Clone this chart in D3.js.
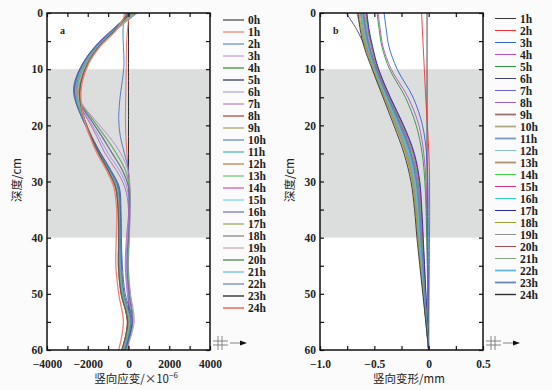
<!DOCTYPE html>
<html>
<head>
<meta charset="utf-8">
<script src="https://cdn.jsdelivr.net/npm/d3@7"></script>
<style>
  body { margin: 0; background: #fbfbfb; }
  svg { display: block; }
  .tick text { font-family: 'Liberation Serif', 'DejaVu Serif', serif; font-weight: bold; font-size: 11.5px; fill: #222; }
  .tick line { stroke: #111; stroke-width: 1.2; }
  .legend text { font-family: 'Liberation Serif', 'DejaVu Serif', serif; font-weight: bold; font-size: 11.5px; fill: #222; }
  .title { font-family: 'Noto Sans CJK SC', sans-serif; font-size: 11.5px; fill: #222; }
  .panel-letter { font-family: 'Liberation Serif', serif; font-weight: bold; font-size: 10px; fill: #222; }
</style>
</head>
<body>
<svg id="chart" width="552" height="390"></svg>
<script>
// ---- panel a: vertical strain (x10^-6) vs depth (cm) ----
const hoursA = ['0h','1h','2h','3h','4h','5h','6h','7h','8h','9h','10h','11h','12h',
  '13h','14h','15h','16h','17h','18h','19h','20h','21h','22h','23h','24h'];
const depthA = [0, 3, 6, 9, 12, 14, 16, 19, 22, 25, 28, 31, 35, 40, 45, 50, 55, 60];
const strainA = [
  [0, 0, 0, 0, 0, 0, 0, 0, 0, 0, 0, 0, 0, 0, 0, 0, 0, 0],
  [50, -50, -100, -110, -120, -130, -140, -150, -130, -80, -20, 0, 20, 0, -20, 0, 30, 0],
  [-200, -270, -250, -220, -300, -380, -440, -480, -400, -200, 0, 30, 20, 0, -30, 0, 50, -50],
  [450, -600, -1450, -2050, -2400, -2450, -2300, -1650, -950, -380, -30, 80, 80, 50, 0, 100, 280, -100],
  [380, -650, -1500, -2100, -2450, -2500, -2350, -1750, -1150, -600, -150, 50, 70, 20, -30, 60, 220, -150],
  [320, -700, -1550, -2150, -2500, -2550, -2400, -1850, -1300, -800, -300, 0, 50, -20, -80, 20, 180, -180],
  [260, -750, -1600, -2200, -2550, -2600, -2450, -1950, -1450, -1000, -450, -80, 20, -60, -120, -20, 130, -230],
  [200, -800, -1650, -2250, -2600, -2650, -2500, -2000, -1550, -1150, -600, -180, 0, -100, -160, -60, 80, -280],
  [0, -650, -1450, -2000, -2300, -2380, -2350, -2150, -1800, -1400, -950, -550, -420, -400, -430, -330, -60, -300],
  [100, -700, -1500, -2050, -2400, -2450, -2400, -2180, -1830, -1430, -980, -600, -460, -420, -420, -300, -10, -260],
  [50, -750, -1600, -2200, -2550, -2650, -2550, -2220, -1820, -1380, -900, -500, -400, -380, -380, -260, 40, -220],
  [150, -700, -1550, -2150, -2500, -2580, -2500, -2200, -1840, -1430, -960, -580, -480, -450, -450, -320, 10, -280],
  [-50, -650, -1450, -2050, -2400, -2450, -2400, -2190, -1860, -1470, -1020, -640, -520, -480, -500, -360, -30, -330],
  [200, -700, -1500, -2100, -2450, -2520, -2450, -2190, -1830, -1420, -940, -560, -440, -400, -370, -250, 70, -200],
  [120, -720, -1550, -2150, -2480, -2550, -2480, -2210, -1850, -1440, -970, -590, -460, -430, -420, -290, 40, -250],
  [80, -740, -1580, -2180, -2520, -2600, -2520, -2230, -1870, -1470, -1010, -630, -510, -480, -490, -360, -10, -300],
  [150, -800, -1650, -2250, -2620, -2700, -2580, -2240, -1820, -1360, -860, -450, -370, -350, -300, -160, 180, -160],
  [250, -600, -1450, -2050, -2400, -2480, -2420, -2180, -1840, -1440, -970, -590, -460, -420, -400, -280, 60, -230],
  [300, -620, -1480, -2080, -2430, -2500, -2450, -2200, -1860, -1460, -990, -610, -480, -440, -420, -300, 30, -250],
  [180, -680, -1520, -2120, -2460, -2540, -2480, -2220, -1870, -1470, -1000, -620, -500, -460, -460, -330, 20, -270],
  [220, -660, -1500, -2100, -2450, -2520, -2460, -2210, -1860, -1460, -990, -610, -490, -450, -440, -310, 30, -260],
  [60, -760, -1600, -2200, -2550, -2630, -2540, -2230, -1840, -1410, -920, -530, -430, -400, -380, -250, 80, -210],
  [100, -780, -1620, -2230, -2580, -2660, -2560, -2240, -1830, -1390, -890, -490, -400, -370, -340, -210, 120, -180],
  [0, -650, -1450, -2000, -2320, -2400, -2360, -2160, -1850, -1460, -1010, -640, -510, -480, -490, -360, -40, -330],
  [-100, -600, -1400, -1950, -2250, -2330, -2320, -2170, -1900, -1540, -1080, -720, -580, -600, -620, -480, -250, -480]
];
const xTicksA = [-4000, -2000, 0, 2000, 4000];
const xMinorA = [-3000, -1000, 1000, 3000];

// ---- panel b: vertical deformation (mm) vs depth (cm) ----
const hoursB = ['1h','2h','3h','4h','5h','6h','7h','8h','9h','10h','11h','12h',
  '13h','14h','15h','16h','17h','18h','19h','20h','21h','22h','23h','24h'];
const depthB = [0, 3, 6, 10, 15, 20, 25, 30, 35, 40, 50, 60];
const deformB = [
  [-0.015, -0.015, -0.015, -0.015, -0.015, -0.015, -0.015, -0.014, -0.013, -0.012, -0.006, 0],
  [-0.065, -0.058, -0.05, -0.04, -0.027, -0.012, 0.002, 0.008, 0.009, 0.008, 0.004, 0],
  [-0.41, -0.39, -0.365, -0.29, -0.144, -0.057, -0.02, -0.008, -0.005, -0.004, -0.002, 0],
  [-0.465, -0.445, -0.42, -0.345, -0.19, -0.09, -0.045, -0.025, -0.018, -0.014, -0.007, 0],
  [-0.475, -0.455, -0.43, -0.36, -0.215, -0.115, -0.06, -0.035, -0.024, -0.018, -0.009, 0],
  [-0.76, -0.66, -0.586, -0.5, -0.4, -0.3, -0.205, -0.145, -0.115, -0.095, -0.047, 0],
  [-0.59, -0.57, -0.54, -0.48, -0.37, -0.25, -0.16, -0.1, -0.08, -0.065, -0.033, 0],
  [-0.58, -0.56, -0.53, -0.47, -0.36, -0.245, -0.15, -0.098, -0.076, -0.061, -0.031, 0],
  [-0.62, -0.6, -0.565, -0.495, -0.39, -0.285, -0.19, -0.13, -0.103, -0.085, -0.042, 0],
  [-0.66, -0.62, -0.58, -0.51, -0.405, -0.3, -0.21, -0.147, -0.117, -0.096, -0.048, 0],
  [-0.6, -0.58, -0.548, -0.484, -0.38, -0.266, -0.17, -0.114, -0.09, -0.073, -0.036, 0],
  [-0.595, -0.575, -0.543, -0.48, -0.375, -0.26, -0.164, -0.109, -0.085, -0.069, -0.035, 0],
  [-0.628, -0.608, -0.574, -0.504, -0.402, -0.296, -0.202, -0.141, -0.112, -0.092, -0.046, 0],
  [-0.579, -0.559, -0.527, -0.468, -0.362, -0.242, -0.144, -0.093, -0.072, -0.057, -0.029, 0],
  [-0.573, -0.553, -0.522, -0.464, -0.357, -0.236, -0.138, -0.087, -0.067, -0.053, -0.027, 0],
  [-0.606, -0.586, -0.553, -0.488, -0.384, -0.272, -0.176, -0.12, -0.094, -0.077, -0.038, 0],
  [-0.568, -0.548, -0.516, -0.46, -0.353, -0.23, -0.132, -0.082, -0.063, -0.05, -0.025, 0],
  [-0.639, -0.619, -0.585, -0.512, -0.411, -0.308, -0.214, -0.152, -0.121, -0.1, -0.05, 0],
  [-0.612, -0.592, -0.558, -0.492, -0.389, -0.278, -0.183, -0.125, -0.099, -0.081, -0.04, 0],
  [-0.6, -0.578, -0.545, -0.478, -0.372, -0.258, -0.165, -0.11, -0.086, -0.07, -0.035, 0],
  [-0.623, -0.603, -0.569, -0.5, -0.398, -0.29, -0.195, -0.136, -0.108, -0.089, -0.044, 0],
  [-0.615, -0.595, -0.56, -0.494, -0.39, -0.282, -0.187, -0.129, -0.101, -0.083, -0.041, 0],
  [-0.605, -0.583, -0.55, -0.486, -0.378, -0.264, -0.168, -0.112, -0.088, -0.072, -0.036, 0],
  [-0.65, -0.63, -0.595, -0.52, -0.42, -0.32, -0.227, -0.163, -0.13, -0.108, -0.054, 0]
];
const xTicksB = [-1.0, -0.5, 0, 0.5];
const xMinorB = [-0.75, -0.25, 0.25];

// shared depth ticks and the shaded layer
const yTicks = [0, 10, 20, 30, 40, 50, 60];
const yMinor = [5, 15, 25, 35, 45, 55];
const bandDepth = [10, 40];

// line styles
const colorsA = ['#1a1a1a','#f0604a','#4a6ec8','#c080d0','#70b070','#707090','#9090e0','#b060c0',
  '#901818','#909040','#3a70c0','#20a0a0','#b06020','#40c050','#d03090','#50d0e0','#5050b0',
  '#b8c088','#a8a8a8','#b89898','#80a880','#40a8d0','#4868a8','#606060','#f08070'];
const widthsA = [1,1,1,1,1.8,1.8,1,1,1,1,1,1,1,1,1,1,1,1.8,1.8,1,1.8,1,1,1.8,1.8];
const colorsB = ['#333333','#f03030','#3060d0','#b050c0','#309040','#404080','#6a60d0','#a060c0',
  '#a07070','#b0a880','#7898c8','#88c0c8','#b09070','#40d040','#d03090','#30d0d0','#2828a0',
  '#98a030','#909090','#a05050','#80a880','#60b8e8','#6888b8','#303030'];
const widthsB = [1,1,1,1,1,1,1,1,1.8,1.8,1.8,1,1.8,1,1,1,1,1,1,1,1,1.8,1.8,1.4];

class DepthProfile {

  constructor(_config, _depths, _series, _labels) {
    this.config = {
      parentElement: _config.parentElement,
      left: _config.left,
      top: _config.top || 13,
      width: _config.width || 163,
      height: _config.height || 337,
      xDomain: _config.xDomain,
      xTicks: _config.xTicks,
      xMinor: _config.xMinor,
      xFormat: _config.xFormat,
      colors: _config.colors,
      widths: _config.widths,
      legendX: _config.legendX,
      legendY: _config.legendY,
      letter: _config.letter,
      yTitleX: _config.yTitleX,
      xTitleX: _config.xTitleX,
      xTitle: _config.xTitle,
      id: _config.id
    };
    this.depths = _depths;
    this.series = _series;
    this.labels = _labels;
    this.initVis();
  }

  initVis() {
    let vis = this;
    const c = vis.config;

    vis.xScale = d3.scaleLinear().domain(c.xDomain).range([0, c.width]);
    vis.yScale = d3.scaleLinear().domain([0, 60]).range([0, c.height]);

    vis.svg = d3.select(c.parentElement);
    vis.chart = vis.svg.append('g')
        .attr('transform', `translate(${c.left},${c.top})`);

    vis.chart.append('rect')
        .attr('width', c.width)
        .attr('height', c.height)
        .attr('fill', '#ffffff');

    // shaded soil layer
    vis.chart.append('rect')
        .attr('x', 0)
        .attr('y', vis.yScale(bandDepth[0]))
        .attr('width', c.width)
        .attr('height', vis.yScale(bandDepth[1]) - vis.yScale(bandDepth[0]))
        .attr('fill', '#dcdddd');

    vis.chart.append('clipPath')
        .attr('id', 'clip-' + c.id)
      .append('rect')
        .attr('width', c.width)
        .attr('height', c.height);

    vis.lineG = vis.chart.append('g')
        .attr('clip-path', `url(#clip-${c.id})`);

    vis.renderVis();
  }

  renderVis() {
    let vis = this;
    const c = vis.config;

    const line = d3.line()
        .x(d => vis.xScale(d[0]))
        .y(d => vis.yScale(d[1]))
        .curve(d3.curveCatmullRom.alpha(0.5));

    vis.lineG.selectAll('.profile')
        .data(vis.series)
        .join('path')
        .attr('class', 'profile')
        .attr('fill', 'none')
        .attr('stroke', (d, i) => c.colors[i])
        .attr('stroke-width', (d, i) => c.widths[i] > 1.5 ? 1.3 : 0.9)
        .attr('d', d => line(d.map((v, j) => [v, vis.depths[j]])));

    // axes: labelled bottom/left, plain ticks on top/right, all pointing inward
    const tickIn = 4;
    vis.chart.append('g')
        .attr('transform', `translate(0,${c.height})`)
        .call(d3.axisBottom(vis.xScale).tickValues(c.xTicks).tickFormat(c.xFormat)
          .tickSizeInner(-tickIn).tickSizeOuter(0).tickPadding(10))
        .call(g => g.select('.domain').remove());
    vis.chart.append('g')
        .attr('transform', `translate(0,${c.height})`)
        .call(d3.axisBottom(vis.xScale).tickValues(c.xMinor).tickFormat('')
          .tickSizeInner(-tickIn).tickSizeOuter(0))
        .call(g => g.select('.domain').remove());
    vis.chart.append('g')
        .call(d3.axisTop(vis.xScale).tickValues(c.xTicks.concat(c.xMinor)).tickFormat('')
          .tickSizeInner(-tickIn).tickSizeOuter(0))
        .call(g => g.select('.domain').remove());
    vis.chart.append('g')
        .call(d3.axisLeft(vis.yScale).tickValues(yTicks).tickFormat(d3.format('d'))
          .tickSizeInner(-tickIn).tickSizeOuter(0).tickPadding(4))
        .call(g => g.select('.domain').remove());
    vis.chart.append('g')
        .call(d3.axisLeft(vis.yScale).tickValues(yMinor).tickFormat('')
          .tickSizeInner(-tickIn).tickSizeOuter(0))
        .call(g => g.select('.domain').remove());
    vis.chart.append('g')
        .attr('transform', `translate(${c.width},0)`)
        .call(d3.axisRight(vis.yScale).tickValues(yTicks.concat(yMinor)).tickFormat('')
          .tickSizeInner(-tickIn).tickSizeOuter(0))
        .call(g => g.select('.domain').remove());

    // frame
    vis.chart.append('rect')
        .attr('width', c.width)
        .attr('height', c.height)
        .attr('fill', 'none')
        .attr('stroke', '#111')
        .attr('stroke-width', 1.5);

    vis.chart.append('text')
        .attr('class', 'panel-letter')
        .attr('x', 13)
        .attr('y', 21)
        .text(c.letter);

    // legend
    const legend = vis.svg.append('g').attr('class', 'legend');
    const rows = legend.selectAll('g')
        .data(vis.labels)
        .join('g')
        .attr('transform', (d, i) => `translate(${c.legendX},${c.legendY + i * 12})`);
    rows.append('line')
        .attr('x1', 0).attr('x2', 21)
        .attr('stroke', (d, i) => c.colors[i])
        .attr('stroke-width', (d, i) => c.widths[i]);
    rows.append('text')
        .attr('x', 25)
        .attr('dy', '0.35em')
        .text(d => d);

    // axis titles
    vis.svg.append('text')
        .attr('class', 'title')
        .attr('transform', `translate(${c.yTitleX},180) rotate(-90)`)
        .attr('text-anchor', 'middle')
        .attr('dy', '0.35em')
        .text('深度/cm');
    const xt = vis.svg.append('text')
        .attr('class', 'title')
        .attr('x', c.xTitleX)
        .attr('y', 383)
        .attr('text-anchor', 'middle');
    xt.append('tspan').text(c.xTitle[0]);
    if (c.xTitle[1]) {
      xt.append('tspan').attr('dy', -5).attr('font-size', '8px').text(c.xTitle[1]);
    }

    // axis break mark and arrow at the lower right corner
    const bx = c.left + c.width + 3, by = c.top + c.height - 7;
    const mark = vis.svg.append('g').attr('stroke', '#777').attr('stroke-width', 0.9).attr('fill', 'none');
    mark.append('path').attr('d', `M${bx},${by - 2}H${bx + 15}M${bx},${by + 2}H${bx + 15}`);
    mark.append('path').attr('d', `M${bx + 5},${by - 7}V${by + 7}M${bx + 9},${by - 7}V${by + 7}`);
    mark.append('path').attr('d', `M${bx + 17},${by}H${bx + 28}`);
    vis.svg.append('path')
        .attr('d', `M${bx + 27},${by - 2.5}L${bx + 34},${by}L${bx + 27},${by + 2.5}Z`)
        .attr('fill', '#111');
  }
}

const fmtB = d => d === 0 ? '0' : d3.format('.1f')(d);

new DepthProfile({
  parentElement: '#chart', id: 'a', left: 47,
  xDomain: [-4000, 4000], xTicks: xTicksA, xMinor: xMinorA, xFormat: d3.format('d'),
  colors: colorsA, widths: widthsA, legendX: 223, legendY: 20, letter: 'a',
  yTitleX: 17, xTitleX: 136, xTitle: ['竖向应变/×10', '−6']
}, depthA, strainA, hoursA);

new DepthProfile({
  parentElement: '#chart', id: 'b', left: 320,
  xDomain: [-1.0, 0.5], xTicks: xTicksB, xMinor: xMinorB, xFormat: fmtB,
  colors: colorsB, widths: widthsB, legendX: 495, legendY: 18.5, letter: 'b',
  yTitleX: 290, xTitleX: 409, xTitle: ['竖向变形/mm']
}, depthB, deformB, hoursB);
</script>
</body>
</html>
